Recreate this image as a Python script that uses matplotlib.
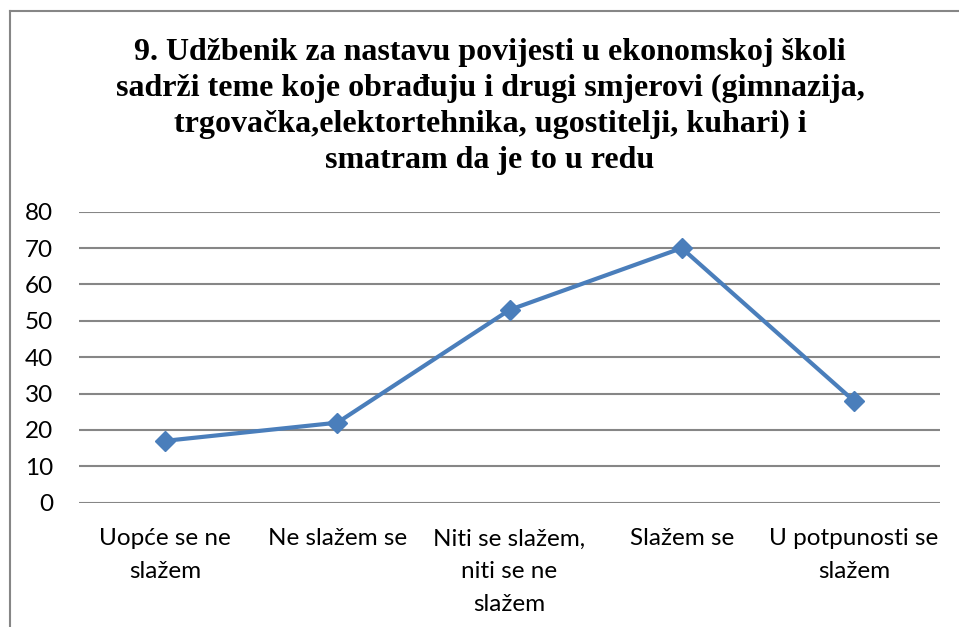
import matplotlib
matplotlib.use("Agg")
import matplotlib.pyplot as plt
from matplotlib.lines import Line2D

categories = ["Uopće se ne\nslažem", "Ne slažem se", "Niti se slažem,\nniti se ne\nslažem",
              "Slažem se", "U potpunosti se\nslažem"]
values = [17, 22, 53, 70, 28]
yticks = [0, 10, 20, 30, 40, 50, 60, 70, 80]
title = ("9. Udžbenik za nastavu povijesti u ekonomskoj školi\n"
         "sadrži teme koje obrađuju i drugi smjerovi (gimnazija,\n"
         "trgovačka,elektortehnika, ugostitelji, kuhari) i\n"
         "smatram da je to u redu")

W, H = 959, 627
fig = plt.figure(figsize=(W / 100, H / 100), dpi=100)
ax = fig.add_axes([79 / W, 1 - 502.7 / H, (940 - 79) / W, (502.7 - 211.7) / H])

x = list(range(len(values)))
ax.plot(x, values, color="#4A7EBB", linewidth=3, marker="D", markersize=10,
        markerfacecolor="#4A7EBB", markeredgecolor="#4A7EBB", zorder=3)
ax.set_xlim(-0.5, len(values) - 0.5)
ax.set_ylim(0, 80)
ax.set_yticks(yticks)
ax.set_xticks(x)
ax.set_xticklabels(categories, fontfamily="Lato", fontsize=17.5, linespacing=1.68)
for lab in ax.get_yticklabels():
    lab.set_fontfamily("Lato")
    lab.set_fontsize(17.5)
ax.tick_params(axis="y", length=0, pad=18.5)
ax.tick_params(axis="x", length=0, pad=18.5)
ax.grid(axis="y", color="#868686", linewidth=1.5)
ax.set_axisbelow(True)
for s in ax.spines.values():
    s.set_visible(False)

fig.text(490 / W, 1 - 38 / H, title, ha="center", va="top",
         fontfamily="Liberation Serif", fontweight="bold", fontsize=23, linespacing=1.32)

# chart frame (left and top edges visible)
fig.add_artist(Line2D([10 / W, 10 / W], [0, 1 - 11 / H], transform=fig.transFigure,
                      color="#868686", linewidth=1.5))
fig.add_artist(Line2D([10 / W, 1], [1 - 11 / H, 1 - 11 / H], transform=fig.transFigure,
                      color="#868686", linewidth=1.5))

fig.savefig("out.png", dpi=100)
